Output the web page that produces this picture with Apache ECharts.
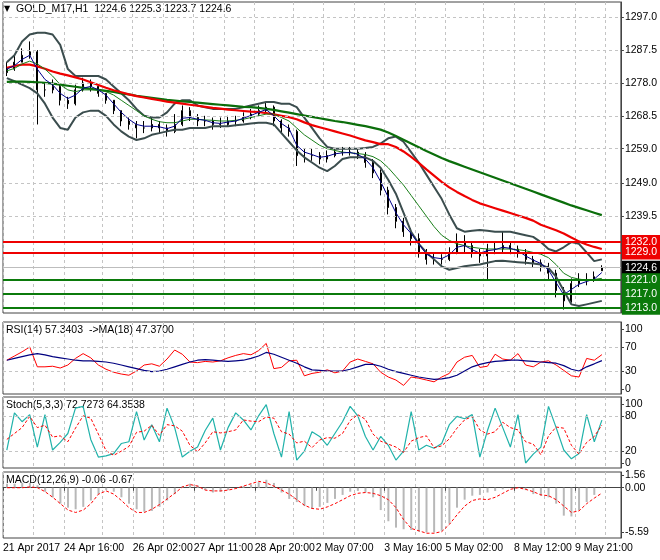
<!DOCTYPE html>
<html><head><meta charset="utf-8">
<script src="https://cdn.jsdelivr.net/npm/echarts@6/dist/echarts.min.js"></script>
<style>html,body{margin:0;padding:0;background:#fff}#c{width:660px;height:560px}</style>
</head><body><div id="c"></div>
<script>
const labelIdx=[0,8,17,25,33,41,50,58,67,75];
const labelText=['21 Apr 2017','24 Apr 16:00','26 Apr 02:00','27 Apr 11:00','28 Apr 20:00','2 May 07:00','3 May 16:00','5 May 02:00','8 May 12:00','9 May 21:00'];
const gridIdx=[0,4,8,13,17,21,25,29,33,38,42,46,50,54,58,63,67,71,75,79];
const openP=[1281,1282,1284,1286,1287,1276,1276,1277,1273,1272,1276,1278,1277,1275,1273,1270,1267,1266,1265,1265,1266,1265,1264,1266,1270,1268,1267,1267,1266,1266,1267,1267,1268,1269,1270,1271,1267,1265,1264,1257,1257,1257,1256,1257,1258,1258,1258,1257,1255,1252,1247,1242,1238,1235,1233,1229,1227,1227,1227,1229,1232,1231,1229,1228,1230,1230,1231,1230,1229,1227,1226,1225,1223,1218,1215,1220,1221,1221,1223.7];
const closeP=[1282,1284,1286,1287,1276,1276,1277,1273,1272,1276,1278,1277,1275,1273,1270,1267,1266,1265,1265,1266,1265,1264,1266,1270,1268,1267,1267,1266,1266,1267,1267,1268,1269,1270,1271,1267,1265,1264,1257,1257,1257,1256,1257,1258,1258,1258,1257,1255,1252,1247,1242,1238,1235,1233,1229,1227,1227,1227,1229,1232,1231,1229,1228,1230,1230,1231,1230,1229,1227,1226,1225,1223,1218,1215,1220,1221,1221,1222,1224.6];
const highP=[1284,1286,1288,1290,1287.5,1278,1279,1278,1274,1277.5,1279.5,1279,1277.5,1275,1273,1270,1268,1267,1267,1268,1267,1266,1269,1271.5,1271,1269,1268.5,1268,1268,1268.5,1268.5,1269.5,1270.5,1271.5,1272.5,1271.5,1267.5,1266,1264.5,1259,1259,1258,1258.5,1259,1259.5,1259.5,1259,1258,1256,1253,1248,1243,1239,1236,1234.5,1230,1229,1228.5,1230.5,1234.5,1234,1232,1230,1231.5,1232,1235,1232,1231,1230,1228,1227,1226,1224,1219,1221.5,1223,1223,1223.5,1225.3];
const lowP=[1280,1281.5,1284,1285,1266,1274,1275,1271.5,1270.5,1271.5,1275.5,1275.5,1274,1272,1269,1265.5,1264.5,1262,1263.5,1264,1263.5,1262.5,1263.5,1265.5,1267,1265.5,1265.5,1264.5,1265,1265.5,1265.5,1266.5,1267.5,1268.5,1269.5,1265.5,1263.5,1262.5,1254,1255,1255.5,1254.5,1255,1256.5,1257,1257,1256,1253.5,1250.5,1245.5,1240,1236,1233.5,1231,1227.5,1225.5,1225.5,1225.5,1226.5,1228.5,1229,1227.5,1226,1221,1228.5,1229,1228.5,1227.5,1225.5,1224.5,1223.5,1221,1216,1212.5,1214.5,1219,1219.5,1220.5,1223.7];
const maSlowGreen=[1278.3,1278.4,1278.4,1278.3,1278.2,1278,1277.8,1277.5,1277.2,1276.9,1276.6,1276.3,1276,1275.7,1275.4,1275,1274.7,1274.3,1274,1273.7,1273.4,1273.1,1272.9,1272.7,1272.5,1272.3,1272.1,1271.9,1271.7,1271.5,1271.3,1271.1,1271,1270.8,1270.5,1270.2,1269.8,1269.4,1269,1268.6,1268.2,1267.8,1267.4,1267,1266.7,1266.3,1265.9,1265.5,1265,1264.5,1263.7,1262.7,1261.6,1260.5,1259.4,1258.3,1257.3,1256.3,1255.4,1254.6,1253.8,1253,1252.2,1251.4,1250.6,1249.8,1249,1248.2,1247.4,1246.6,1245.8,1245,1244.2,1243.4,1242.6,1241.9,1241.2,1240.5,1239.8];
const maSlowRed=[1282.4,1282.9,1283.3,1283.3,1282.8,1282.1,1281.3,1280.7,1280.2,1279.6,1279,1278.2,1277.4,1276.6,1275.9,1275.3,1274.7,1274.2,1273.8,1273.4,1273,1272.6,1272.3,1272,1271.7,1271.4,1271.1,1270.8,1270.6,1270.3,1270.1,1269.9,1269.7,1269.6,1269.3,1268.9,1268.5,1268.1,1267.5,1266.6,1265.8,1265.2,1264.6,1264,1263.4,1262.8,1262.1,1261.4,1260.9,1260.3,1260.3,1259.5,1258.2,1256.6,1254.9,1253,1251.2,1249.4,1247.8,1246.5,1245.3,1244.2,1243.2,1242.5,1241.8,1241.1,1240.4,1239.7,1239,1238.2,1237,1236.2,1235.4,1234.5,1233.3,1232.2,1231.3,1230.6,1230];
const bandUpper=[1284,1286,1290,1292,1292.5,1292.5,1292,1289,1282,1280,1280,1280,1280,1279,1277,1275,1273,1270.5,1268.5,1268,1268,1269.5,1272,1273,1273,1271.5,1271,1270.5,1270.5,1270.5,1270.5,1271,1271.5,1272,1272.5,1272.5,1272,1272,1271,1268,1265,1262,1259.5,1259,1259,1259,1259,1259.2,1259.5,1260.5,1262,1262.5,1261,1258,1255,1251.5,1248,1244.5,1240,1236,1235,1235.3,1235.5,1235.3,1235,1235,1235,1234.5,1234,1233.5,1232,1230,1229.3,1230.5,1232,1231.5,1229,1226.5,1227];
const bandLower=[1279.4,1278.5,1277.5,1276.5,1275,1272,1268,1265,1264.5,1268,1269.5,1270,1270,1268.5,1266,1264,1262.5,1261.5,1262,1263,1263.5,1264,1264.5,1264.5,1265,1265,1265,1265.5,1265.5,1265.5,1265.8,1266,1266.3,1266.5,1266.5,1266,1263.5,1261,1258.5,1256.5,1255,1253.5,1252.5,1254,1256,1256.5,1256.5,1256.5,1255.5,1253.5,1250,1246,1240.5,1235,1231.5,1229,1227,1225,1224,1224.5,1225,1225.3,1225.5,1226,1226.5,1226.6,1226.4,1226.2,1226,1225.8,1225.5,1224.5,1222,1218,1214,1213.5,1214,1214.5,1215];
const maFastGreen=[1281.5,1282.2,1283.5,1284.3,1283.5,1282,1280,1277.5,1276,1275.5,1276,1276,1276,1275.5,1274.5,1273,1271.5,1270,1268.5,1267.5,1266.8,1266.5,1266.5,1267,1267.5,1267.5,1267.3,1267.2,1267,1267,1267.2,1267.5,1268,1268.5,1269,1269,1268,1267,1265,1263,1261.5,1260,1259,1258.5,1258,1257.8,1257.6,1257.3,1256.7,1255.5,1253.5,1251,1248.5,1245.5,1242.5,1239.5,1236.5,1234,1232.5,1231.5,1231,1230.5,1230.2,1230,1230,1230,1230,1229.8,1229.5,1229,1228.5,1227.5,1225.5,1223,1221.8,1221.3,1221,1221.2,1221.5];
const maFastBlue=[1282,1283,1284.8,1286,1282,1279,1277.5,1275,1273.5,1274.5,1276.5,1277,1276,1274.5,1272,1269.5,1267.5,1266,1265.5,1265.5,1265.3,1264.8,1265.5,1267.8,1268,1267.5,1267.2,1266.5,1266.3,1266.7,1267,1267.8,1268.6,1269.5,1270.3,1268.5,1266.3,1264.8,1260,1258,1257.3,1256.5,1256.8,1257.5,1257.8,1257.9,1257.4,1256,1253.5,1249.5,1245,1240.5,1237,1234.5,1231.5,1228.5,1227.5,1227.2,1228.3,1230.5,1231,1229.8,1228.8,1229.5,1229.8,1230.5,1230.2,1229.5,1228,1226.8,1225.8,1224,1220.3,1216.8,1218.3,1219.8,1220.6,1221.3,1223.2];
const rsi=[48,55,62,70,37,37,38,35,40,51,59,52,40,33,28,25,23,30,40,42,38,50,65,58,45,44,46,45,47,52,56,59,57,64,76,34,36,47,48,22,26,28,32,27,30,45,50,46,42,28,20,15,6,20,18,15,12,20,26,45,53,56,36,38,58,50,48,59,40,37,45,47,40,31,22,20,51,48,57.3];
const rsiMa=[48,51,54,57,59,57,54,52,50,48,47,47,46,45,43,40,37,34,31,29,30,33,37,41,45,48,49,48,47,46,47,48,51,55,61,58,53,48,43,37,32,31,30,30,30,33,37,41,41,38,33,29,26,23,20,18,16,17,19,23,30,37,41,44,46,47,48,48,47,46,45,44,43,39,33,30,37,42,47.37];
const stochK=[22,85,70,82,27,82,22,35,50,93,96,40,10,12,16,33,36,87,39,65,36,93,60,10,20,27,55,76,22,60,85,73,56,80,99,50,10,87,5,20,53,45,30,50,70,96,80,45,22,45,30,5,20,87,22,30,25,33,65,79,75,82,10,55,93,60,27,82,0,15,27,96,60,22,7,16,82,36,72.7];
const stochD=[40,50,60,79,60,64,44,46,36,59,80,76,49,21,13,20,28,52,54,64,47,65,63,54,30,19,34,53,51,53,56,73,71,70,78,76,53,49,34,37,26,39,43,42,50,72,82,74,49,37,32,27,18,37,43,46,26,29,41,59,73,79,56,49,53,69,60,56,36,32,14,46,61,59,30,15,35,45,64.4];
const macdHist=[0.5,0.5,0.6,0.6,0.3,-0.5,-1.2,-2,-2.5,-2.7,-2.4,-1.6,-0.8,-0.3,-0.5,-1.2,-2,-2.7,-3,-2.9,-2.4,-1.6,-0.8,0.2,0.5,0.3,-0.3,-0.6,-0.5,-0.3,0,0.2,0.4,0.7,1,0.6,-0.6,-1.4,-1.8,-2.3,-2.6,-2.4,-1.9,-1.4,-0.9,-0.5,-0.4,-0.6,-1.2,-2.8,-4.2,-5,-5.2,-5.3,-5.5,-5.6,-5.59,-5.4,-4.5,-2.5,-1.5,-1,-0.9,-0.6,-0.4,-0.2,0,0,-0.3,-0.8,-1,-1.2,-2,-3.5,-3.6,-2.8,-1.8,-0.9,-0.06];
const macdSignal=[0,0,0,0.1,0,-0.5,-1.2,-2,-2.8,-3.1,-2.8,-2,-0.8,-0.4,-0.8,-1.6,-2.5,-3.1,-3.1,-2.7,-2.1,-1.4,-0.7,0.1,0.4,0.2,-0.3,-0.4,-0.4,-0.3,-0.1,0.2,0.5,0.8,0.6,0.2,-0.3,-0.8,-1.5,-2.2,-2.6,-2.7,-2.4,-2,-1.5,-1,-0.7,-0.6,-0.7,-1,-1.5,-2.5,-4,-5.1,-5.4,-5.7,-5.7,-5.5,-4.6,-3.4,-2.3,-1.6,-1.4,-1.5,-1.2,-0.7,-0.2,0,-0.2,-0.5,-0.9,-1,-1.5,-2.3,-3.1,-2.9,-2,-1.3,-0.67];
const priceTicks=[1297,1287.5,1278,1268.5,1259,1249,1239.5,1211];
const resistLevels=[1232,1229];
const supportLevels=[1221,1217,1213];
const lastPrice=1224.6;

const N=81;
const cats=[];for(let i=0;i<N;i++){const j=labelIdx.indexOf(i);cats.push(j>=0?labelText[j]:'');}
const FONT='Liberation Sans';
const FS=10.5;
const grids=[{top:2,height:311},{top:322,height:72},{top:397,height:71},{top:472,height:66}].map(g=>Object.assign({left:3,right:39,show:true,borderColor:'#444',borderWidth:1},g));
const dash={type:[3,3],color:'#c4c4c4',width:1};
const xAxes=grids.map((g,i)=>({type:'category',gridIndex:i,data:cats,boundaryGap:true,
  axisLine:{show:i===3,lineStyle:{color:'#444'}},
  axisTick:{show:i===3,interval:(idx)=>labelIdx.includes(idx),length:3,lineStyle:{color:'#444'}},
  axisLabel:{show:i===3,interval:(idx)=>labelIdx.includes(idx),hideOverlap:false,showMinLabel:true,showMaxLabel:true,align:'left',padding:[0,0,0,-4],fontFamily:FONT,fontSize:FS,color:'#000',margin:5},
  splitLine:{show:true,interval:(idx)=>gridIdx.includes(idx),lineStyle:dash}}));
function yAx(i,min,max,vals,fmt){return {type:'value',gridIndex:i,position:'right',min,max,
  axisLine:{show:true,lineStyle:{color:'#444'}},splitLine:{show:false},
  axisTick:{show:true,customValues:vals,length:3,lineStyle:{color:'#444'}},
  axisLabel:{customValues:vals,formatter:fmt,fontFamily:FONT,fontSize:FS,color:'#000',margin:4}};}
const yAxes=[yAx(0,1211.5,1301.4,priceTicks,v=>v.toFixed(1)),
  yAx(1,-8.3,111.7,[100,70,30,0],v=>String(v)),
  yAx(2,-8.5,111.9,[100,80,20,0],v=>String(v)),
  yAx(3,-6.3,1.97,[1.56,0,-5.59],v=>v.toFixed(2))];
function gridLines(vals){return {silent:true,symbol:'none',label:{show:false},lineStyle:dash,data:vals.map(v=>({yAxis:v}))};}
function line(name,data,color,width,gi,extra){return Object.assign({type:'line',name,data,xAxisIndex:gi,yAxisIndex:gi,symbol:'none',lineStyle:{color,width},itemStyle:{color},animation:false,silent:true},extra||{});}
function lvl(v,bg,fg,lc){return {yAxis:v,lineStyle:{color:lc,width:2,type:'solid'},label:{show:true,position:'end',formatter:v.toFixed(1),backgroundColor:bg,color:fg,fontFamily:FONT,fontSize:FS,padding:[2,3,1,3],distance:1}};}
const candles=openP.map((o,i)=>[o,closeP[i],lowP[i],highP[i]]);
const series=[
  line('grid0',[],'#000',1,0,{markLine:gridLines(priceTicks.slice(0,7))}),
  line('up',bandUpper,'#3b4d4e',2,0),
  line('lo',bandLower,'#3b4d4e',2,0),
  line('g200',maSlowGreen,'#0b6e0b',2.2,0),
  line('r100',maSlowRed,'#ee0000',2.2,0,{markLine:{silent:true,symbol:'none',data:[
    {yAxis:lastPrice,lineStyle:{color:'#bdbdbd',width:1,type:'solid'},label:{show:true,position:'end',formatter:lastPrice.toFixed(1),backgroundColor:'#000',color:'#fff',fontFamily:FONT,fontSize:FS,padding:[2,3,1,3],distance:1}},
    ...resistLevels.map(v=>lvl(v,'#ee0000','#fff','#ee0000')),
    ...supportLevels.map(v=>lvl(v,'#0b7a0b','#fff','#0b7a0b'))]}}),
  line('gFast',maFastGreen,'#1a7f1a',1,0),
  line('bFast',maFastBlue,'#00008b',1,0),
  {type:'candlestick',data:candles,xAxisIndex:0,yAxisIndex:0,barWidth:1.5,silent:true,animation:false,
   itemStyle:{color:'#000',color0:'#000',borderColor:'#000',borderColor0:'#000',borderWidth:1}},
  line('rsiGrid',[],'#000',1,1,{markLine:gridLines([70,30])}),
  line('rsi',rsi,'#ff0000',1,1),
  line('rsiMa',rsiMa,'#000080',1.2,1),
  line('stGrid',[],'#000',1,2,{markLine:gridLines([80,20])}),
  line('stK',stochK,'#20b2aa',1.2,2),
  line('stD',stochD,'#ff0000',1,2,{lineStyle:{color:'#ff0000',width:1,type:[3,2]}}),
  {type:'bar',data:macdHist,xAxisIndex:3,yAxisIndex:3,barWidth:2,itemStyle:{color:'#b8b8b8'},silent:true,animation:false},
  line('sig',macdSignal,'#ff0000',1,3,{lineStyle:{color:'#ff0000',width:1,type:[3,2]}})
];
const txt=(t,x,y,f)=>({type:'text',left:x,top:y,style:{text:t,font:f||(FS+'px "Liberation Sans"'),fill:'#000'}});
const chart=echarts.init(document.getElementById('c'),null,{renderer:'canvas'});
chart.setOption({animation:false,backgroundColor:'#fff',grid:grids,xAxis:xAxes,yAxis:yAxes,series,
  graphic:[txt('▼',4,5,'8px "DejaVu Sans"'),txt('GOLD_M17,H1  1224.6 1225.3 1223.7 1224.6',16,4),txt('RSI(14) 57.3403  ->MA(18) 47.3700',6,325),txt('Stoch(5,3,3) 72.7273 64.3538',6,400),txt('MACD(12,26,9) -0.06 -0.67',6,475)]});
</script></body></html>
